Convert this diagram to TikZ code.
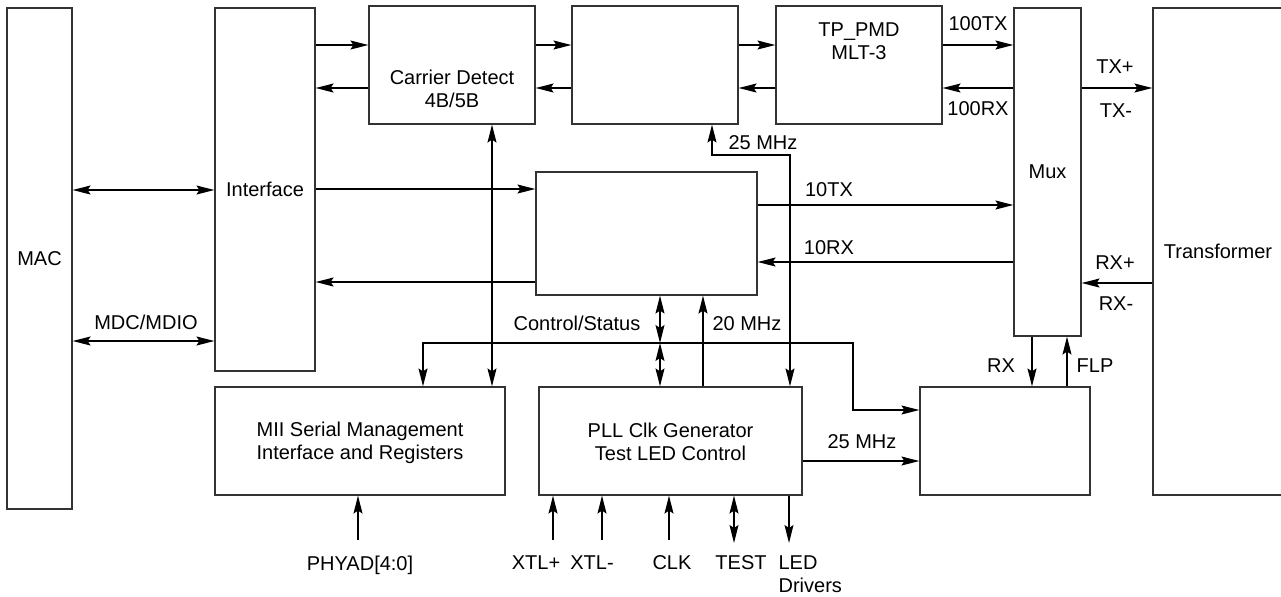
\documentclass[tikz,border=0pt]{standalone}
\usepackage{fontspec}
\setmainfont{Liberation Sans}
\usetikzlibrary{arrows.meta}

\begin{document}
\begin{tikzpicture}[x=0.5pt,y=-0.5pt,line width=0.6pt,
  font=\fontsize{10}{11.5}\selectfont,
  blk/.style={draw=black!80,inner sep=0pt,align=center},
  lbl/.style={inner sep=0pt,text height=7.2pt,text depth=0pt},
  arr/.style={-{Stealth[length=9pt,width=4.5pt,inset=1.5pt]}},
  darr/.style={{Stealth[length=9pt,width=4.5pt,inset=1.5pt]}-{Stealth[length=9pt,width=4.5pt,inset=1.5pt]}}]
\useasboundingbox (0,0) rectangle (1281,596);

% blocks
\node[blk,minimum width=32.5pt,minimum height=250.5pt] (mac) at (39.5,258.5) {MAC};
\node[blk,minimum width=50pt,minimum height=181.5pt] (ifc) at (265,189.5) {Interface};
\node[blk,minimum width=83pt,minimum height=59pt] (cd) at (452,65) {};
\node[align=center,inner sep=0pt] (cdtxt) at (452,89) {Carrier Detect\\4B/5B};
\node[blk,minimum width=83pt,minimum height=59pt] (mid) at (655,65) {};
\node[blk,minimum width=83pt,minimum height=59pt] (tp) at (859,65) {};
\node[align=center,inner sep=0pt] (tptxt) at (859,41) {TP\_PMD\\MLT-3};
\node[blk,minimum width=33.5pt,minimum height=164pt] (mux) at (1047.5,172) {Mux};
\node[blk,minimum width=65pt,minimum height=243.5pt] (tr) at (1218,251.5) {Transformer};
\node[blk,minimum width=110.5pt,minimum height=61.5pt] (tenb) at (646.5,233.5) {};
\node[blk,minimum width=145pt,minimum height=54pt] (mii) at (360,441) {};
\node[align=center,inner sep=0pt] (miitxt) at (360,443) {MII Serial Management\\Interface and Registers};
\node[blk,minimum width=131.5pt,minimum height=54pt] (pll) at (670.5,441) {};
\node[align=center,inner sep=0pt] (plltxt) at (670.5,442) {PLL Clk Generator\\Test LED Control};
\node[blk,minimum width=85pt,minimum height=54pt] (brb) at (1005,441) {};

% 100 Mb path
\foreach \a/\b in {ifc/cd,cd/mid,mid/tp,tp/mux} {
  \draw[arr] (\a.east |- 0,45) -- (\b.west |- 0,45);
  \draw[arr] (\b.west |- 0,88) -- (\a.east |- 0,88);
}
\draw[arr] (mux.east |- 0,88) -- (tr.west |- 0,88);
\draw[arr] (tr.west |- 0,283) -- (mux.east |- 0,283);

% 10 Mb path
\draw[arr] (ifc.east |- 0,189) -- (tenb.west |- 0,189);
\draw[arr] (tenb.west |- 0,282) -- (ifc.east |- 0,282);
\draw[arr] (tenb.east |- 0,205) -- (mux.west |- 0,205);
\draw[arr] (mux.west |- 0,262) -- (tenb.east |- 0,262);

% MAC side
\draw[darr] (mac.east |- 0,190) -- (ifc.west |- 0,190);
\draw[darr] (mac.east |- 0,341) -- (ifc.west |- 0,341);

% clocks and control
\draw[darr] (cd.south -| 492,0) -- (mii.north -| 492,0);
\draw[darr] (mid.south -| 712,0) |- (790,155) -- (pll.north -| 790,0);
\coordinate (cs) at (660,343);
\draw[darr] (tenb.south -| cs) -- (cs);
\draw[darr] (cs) -- (pll.north -| cs);
\draw[darr] (mii.north -| 423,0) |- (853,343) |- (brb.west |- 0,410);
\draw[arr] (pll.north -| 703,0) -- (tenb.south -| 703,0);
\draw[arr] (pll.east |- 0,461) -- (brb.west |- 0,461);
\draw[arr] (mux.south -| 1032,0) -- (brb.north -| 1032,0);
\draw[arr] (brb.north -| 1067,0) -- (mux.south -| 1067,0);

% pins
\coordinate (phy) at (358,540);
\draw[arr] (phy) -- (mii.south -| phy);
\foreach \n/\x in {xp/553,xm/602,clk/669} {
  \coordinate (\n) at (\x,540);
  \draw[arr] (\n) -- (pll.south -| \n);
}
\coordinate (tst) at (734,543);
\coordinate (led) at (789,543);
\draw[darr] (pll.south -| tst) -- (tst);
\draw[arr] (pll.south -| led) -- (led);

% labels
\node[lbl] (l100tx) at (978,23) {100TX};
\node[lbl] (l100rx) at (978,108) {100RX};
\node[lbl] (ltxp) at (1115,66) {TX+};
\node[lbl] (ltxm) at (1116,110) {TX-};
\node[lbl] (lrxp) at (1115,262) {RX+};
\node[lbl] (lrxm) at (1116,303) {RX-};
\node[lbl] (l10tx) at (829,189) {10TX};
\node[lbl] (l10rx) at (829,247) {10RX};
\node[lbl] (l25a) at (763,142) {25 MHz};
\node[lbl] (lcs) at (577,323) {Control/Status};
\node[lbl] (l20) at (747,323) {20 MHz};
\node[lbl] (l25b) at (862,441) {25 MHz};
\node[lbl] (lrx) at (1001,365) {RX};
\node[lbl] (lflp) at (1095,365) {FLP};
\node[lbl] (lmdio) at (146,322) {MDC/MDIO};
\node[lbl] (lphy) at (360,563) {PHYAD[4:0]};
\node[lbl] (lxp) at (536,562) {XTL+};
\node[lbl] (lxm) at (592,562) {XTL-};
\node[lbl] (lclk) at (672,562) {CLK};
\node[lbl] (ltst) at (741,562) {TEST};
\node[align=left,anchor=north west,inner sep=0pt] (lled) at (778,555) {LED\\Drivers};
\end{tikzpicture}
\end{document}
